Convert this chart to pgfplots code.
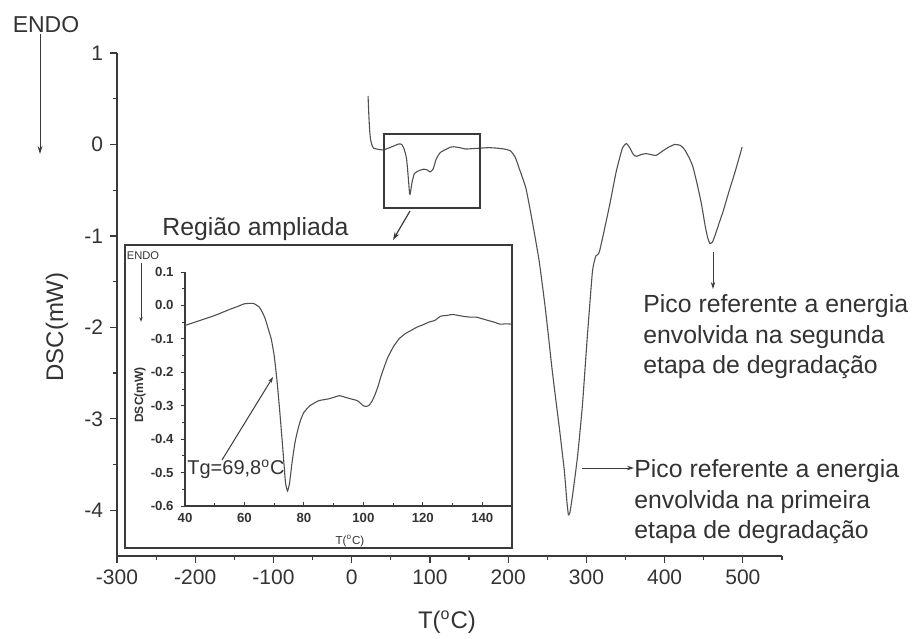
\documentclass[border=0pt]{standalone}
\usepackage{pgfplots}
\pgfplotsset{compat=1.18}
\usepackage{fontspec}
\setmainfont{Liberation Sans}
\usetikzlibrary{arrows.meta}
\definecolor{txt}{HTML}{333333}
\definecolor{crv}{HTML}{505050}
\definecolor{axc}{HTML}{3A3A3A}
\begin{document}
\begin{tikzpicture}
\useasboundingbox (0pt,0pt) rectangle (457pt,319pt);
% ---------------- main axis ----------------
\begin{axis}[
  at={(58.5pt,41pt)}, anchor=south west, scale only axis,
  width=332.5pt, height=251.5pt,
  xmin=-300, xmax=550, ymin=-4.5, ymax=1,
  axis x line*=bottom, axis y line*=left,
  xtick={-300,-200,...,500}, ytick={-4,-3,-2,-1,0,1},
  minor xtick={-250,-150,...,550}, minor ytick={-3.5,-2.5,-1.5,-0.5,0.5},
  tick align=outside, major tick length=3.5pt, minor tick length=2.2pt,
  tick style={line width=0.6pt, color=axc},
  axis line style={line width=0.7pt, color=axc},
  ticklabel style={font=\fontsize{10.5}{12}\selectfont, text=txt},
  /pgf/number format/assume math mode=true,
  clip=false,
]
\addplot[crv, line width=0.55pt, smooth, tension=0.3] coordinates {
(20.9,0.53) (22,0.30) (23,0.15) (24,0.06) (26,-0.01) (28,-0.04) (32,-0.05)
(40,-0.06) (50,-0.03) (60,0.005) (64,0.0) (67,-0.05) (70,-0.15) (72,-0.33)
(74,-0.54) (75,-0.53) (77,-0.42) (80,-0.32) (85,-0.29) (92,-0.27) (97,-0.28)
(100,-0.30) (104,-0.27) (108,-0.16) (113,-0.09) (120,-0.055) (126,-0.03)
(130,-0.025) (138,-0.035) (146,-0.05) (155,-0.045) (165,-0.04) (175,-0.035)
(185,-0.04) (195,-0.05) (203,-0.07) (209,-0.14) (214,-0.26) (222.7,-0.48)
(230.8,-0.84) (239.7,-1.28) (248,-1.83) (256.4,-2.48) (265.4,-3.10)
(271.8,-3.57) (275,-3.90) (277,-4.05) (279,-4.02) (282.4,-3.83) (288.8,-3.40)
(294.9,-2.85) (301,-2.12) (307.7,-1.39) (312,-1.22) (316.7,-1.17) (329.5,-0.67)
(338,-0.30) (346,-0.04) (351,0.01) (355,-0.03) (360,-0.11) (364,-0.13)
(370,-0.11) (376,-0.10) (382,-0.11) (389,-0.12) (396,-0.08) (405,-0.03)
(413,0.00) (420,-0.01) (425,-0.05) (431,-0.14) (436,-0.24) (442,-0.45)
(447,-0.65) (452,-0.90) (455,-1.02) (457.7,-1.08) (461,-1.07) (465,-0.98)
(470,-0.85) (474.8,-0.73) (482,-0.52) (490,-0.30) (499,-0.03)
};
\end{axis}
% ---------------- inset axis ----------------
\begin{axis}[
  at={(92.5pt,66pt)}, anchor=south west, scale only axis,
  width=163.5pt, height=117pt,
  xmin=40, xmax=150, ymin=-0.6, ymax=0.1,
  axis x line*=bottom, axis y line*=left,
  xtick={40,60,...,140}, ytick={-0.6,-0.5,-0.4,-0.3,-0.2,-0.1,0,0.1},
  minor xtick={50,70,...,150}, minor ytick={-0.55,-0.45,-0.35,-0.25,-0.15,-0.05,0.05},
  xtick align=inside, ytick align=outside,
  major tick length=2.2pt, minor tick length=1.4pt,
  tick style={line width=0.5pt, color=axc},
  axis line style={line width=0.6pt, color=axc},
  ticklabel style={font=\fontsize{6.6}{7}\selectfont\bfseries, text=txt},
  yticklabel style={/pgf/number format/.cd, fixed, fixed zerofill, precision=1},
  /pgf/number format/assume math mode=true,
  clip=false,
]
\addplot[crv, line width=0.55pt, smooth, tension=0.3] coordinates {
(40,-0.060) (45,-0.045) (50,-0.030) (55,-0.012) (58,-0.002) (60,0.005) (63,0.006)
(65,-0.005) (66,-0.02) (67,-0.04) (68,-0.07) (69,-0.10) (70,-0.15) (71,-0.23)
(72,-0.33) (73,-0.44) (73.8,-0.53) (74.5,-0.555) (75.2,-0.53) (76,-0.47)
(77,-0.41) (78,-0.37) (79,-0.34) (80,-0.32) (82,-0.30) (85,-0.285) (88,-0.28)
(90,-0.275) (92,-0.27) (94,-0.275) (96,-0.28) (98,-0.285) (100,-0.30)
(101,-0.302) (102,-0.298) (103,-0.285) (104,-0.265) (105,-0.24) (106,-0.21)
(108,-0.16) (110,-0.125) (112,-0.10) (114,-0.085) (116,-0.075) (118,-0.065)
(120,-0.058) (122,-0.05) (124,-0.045) (126,-0.032) (128,-0.03) (130,-0.027)
(132,-0.03) (134,-0.033) (136,-0.035) (138,-0.035) (140,-0.04) (142,-0.045)
(144,-0.05) (146,-0.056) (148,-0.055) (150,-0.056)
};
\end{axis}
% ---------------- annotations, in picture pixels (y downward) ----------------
\begin{scope}[shift={(0pt,319pt)}, x=0.5pt, y=-0.5pt]
\node[text=txt, font=\fontsize{11.5}{13}\selectfont] at (46,25) {ENDO};
\draw[axc, line width=0.5pt, -{Stealth[length=4pt,width=2.4pt]}] (40,34) -- (40,154);
\node[text=txt, rotate=90, font=\fontsize{12}{14}\selectfont] at (57,327) {DSC(mW)};
\node[text=txt, font=\fontsize{12}{14}\selectfont] at (447,622) {T(\textsuperscript{o}C)};
\draw[axc, line width=0.6pt] (384,134) rectangle (480,208);
\draw[axc, line width=0.6pt, -{Stealth[length=4pt,width=2.6pt]}] (410,211) -- (393,240);
\node[text=txt, anchor=base west, inner sep=0pt, font=\fontsize{12.4}{14}\selectfont] at (162,236) {Região ampliada};
\draw[axc, line width=0.5pt, -{Stealth[length=3.5pt,width=2.2pt]}] (713,252) -- (713,289);
\begin{scope}[every node/.style={text=txt, anchor=base west, inner sep=0pt, font=\fontsize{12.4}{14}\selectfont}]
\node at (643,312) {Pico referente a energia};
\node at (643,343) {envolvida na segunda};
\node at (643,373) {etapa de degradação};
\node at (634,477) {Pico referente a energia};
\node at (634,508) {envolvida na primeira};
\node at (634,538) {etapa de degradação};
\end{scope}
\draw[axc, line width=0.5pt, -{Stealth[length=3.5pt,width=2.2pt]}] (582,468) -- (634,468);
\draw[axc, line width=0.7pt] (125,245) rectangle (512,548);
\node[text=txt, font=\fontsize{5.6}{6}\selectfont] at (143,256) {ENDO};
\draw[axc, line width=0.4pt, -{Stealth[length=2.5pt,width=1.6pt]}] (141,263) -- (141,322);
\node[text=txt, rotate=90, font=\fontsize{6}{7}\selectfont\bfseries] at (140,395) {DSC(mW)};
\node[text=txt, font=\fontsize{5.8}{6}\selectfont] at (350,541) {T(\textsuperscript{o}C)};
\node[text=txt, anchor=west, inner sep=0pt, font=\fontsize{10}{12}\selectfont] at (187,469) {Tg=69,8\textsuperscript{o}C};
\draw[axc, line width=0.5pt, -{Stealth[length=3pt,width=2pt]}] (222,460) -- (273,377);
\end{scope}
\end{tikzpicture}
\end{document}
